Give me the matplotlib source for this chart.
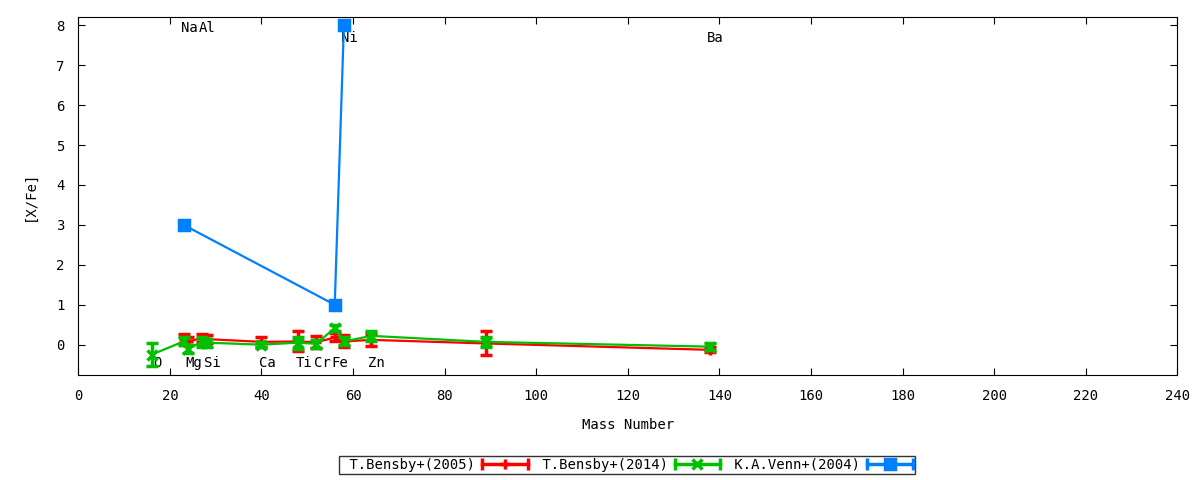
import matplotlib
matplotlib.use("Agg")
import matplotlib.pyplot as plt
from matplotlib.lines import Line2D
from matplotlib.legend_handler import HandlerLine2D

plt.rcParams['font.family'] = ['DejaVu Sans Mono']
plt.rcParams['font.size'] = 10

# element labels (mass number, name)
top_names = ["Na", "Al", "Ni", "Ba"]
top_mass = [23, 27, 58, 138]
top_y = [7.93, 7.93, 7.68, 7.68]
bottom_names = ["O", "Mg", "Si", "Ca", "Ti", "Cr", "Fe", "Zn"]
bottom_mass = [16, 24, 28, 40, 48, 52, 56, 64]
bottom_y = -0.46

# T.Bensby+(2005)
b05_mass = [23, 24, 27, 28, 40, 48, 52, 56, 58, 64, 89, 138]
b05_val = [0.15, 0.08, 0.16, 0.14, 0.07, 0.08, 0.06, 0.18, 0.08, 0.12, 0.03, -0.13]
b05_err = [0.12, 0.10, 0.10, 0.10, 0.13, 0.25, 0.15, 0.10, 0.15, 0.15, 0.30, 0.06]

# T.Bensby+(2014)
b14_mass = [16, 23, 24, 27, 28, 40, 48, 52, 56, 58, 64, 89, 138]
b14_val = [-0.25, 0.08, -0.10, 0.07, 0.05, 0.00, 0.05, 0.02, 0.42, 0.08, 0.22, 0.07, -0.05]
b14_err = [0.28, 0.10, 0.10, 0.12, 0.10, 0.07, 0.15, 0.10, 0.07, 0.10, 0.12, 0.12, 0.08]

# K.A.Venn+(2004)
venn_mass = [23, 56, 58]
venn_val = [3.0, 1.0, 8.0]
venn_err = [0.0, 0.0, 0.0]

series = [
    ("T.Bensby+(2005)", b05_mass, b05_val, b05_err, "#ff0000", "+"),
    ("T.Bensby+(2014)", b14_mass, b14_val, b14_err, "#00c000", "x"),
    ("K.A.Venn+(2004)", venn_mass, venn_val, venn_err, "#0080ff", "s"),
]

fig = plt.figure(figsize=(12, 4.8), dpi=100)
ax = fig.add_axes([78.3 / 1200, 105 / 480, 1099 / 1200, 357.7 / 480])

for name, m, y in zip(top_names, top_mass, top_y):
    ax.text(m + 1.2, y, name, ha="center", va="center", zorder=1)
for name, m in zip(bottom_names, bottom_mass):
    ax.text(m + 1.2, bottom_y, name, ha="center", va="center", zorder=1)

handles = []
hmap = {}
for i, (label, m, v, e, col, mk) in enumerate(series):
    ax.errorbar(m, v, yerr=e, color=col, lw=1.6, marker=mk, ms=7, mew=2.5,
                capsize=4.5, capthick=2.5, elinewidth=2.5, zorder=2 + i)
    base = Line2D([], [], color=col, lw=2.5, marker=mk, ms=7, mew=2.5)
    caps = Line2D([], [], color=col, lw=0, marker="|", ms=8, mew=2.5)
    hmap[caps] = HandlerLine2D(numpoints=2, marker_pad=0.0)
    hmap[base] = HandlerLine2D(numpoints=1)
    handles.append((base, caps))

ax.set_xlim(0, 240)
ax.set_ylim(-0.76, 8.2)
ax.set_xticks(range(0, 241, 20))
ax.set_yticks(range(0, 9))
ax.tick_params(direction="in", top=True, right=True, length=5, pad=10)
ax.set_xlabel("Mass Number", labelpad=11)
ax.set_ylabel("[X/Fe]", labelpad=14)

# gnuplot-style key: text first, leading gap before each entry
leg = fig.legend(handles, [" " + s[0] for s in series], handler_map=hmap,
                 loc="center", bbox_to_anchor=(627 / 1200, 15 / 480), ncol=3,
                 markerfirst=False, frameon=True, fancybox=False,
                 handlelength=3.3, columnspacing=0.4, handletextpad=0.5,
                 borderpad=0.15, borderaxespad=0)
leg.get_frame().set_edgecolor("black")
leg.get_frame().set_linewidth(1.0)

fig.savefig("out.png", dpi=100)
